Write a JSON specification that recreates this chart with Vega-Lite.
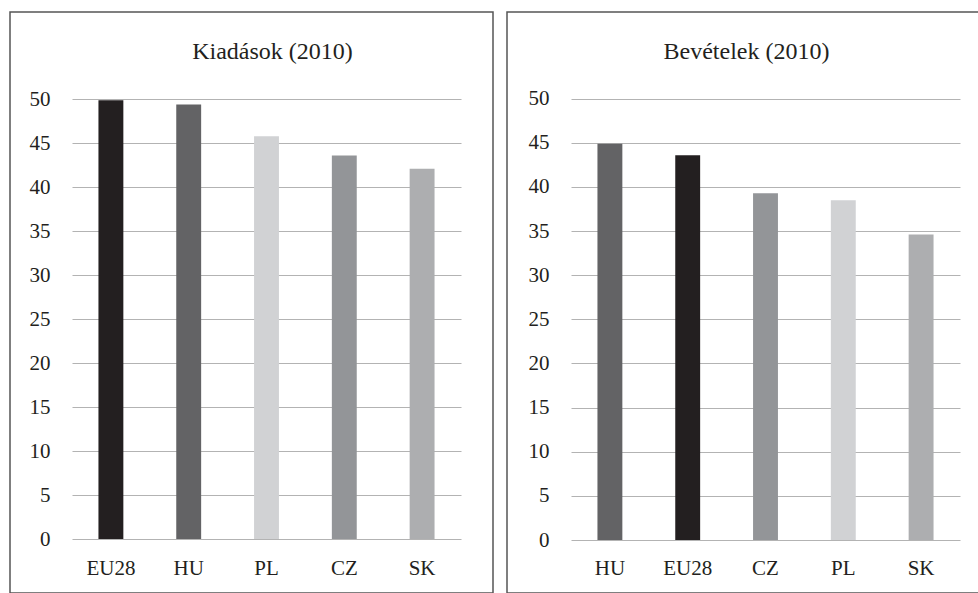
{
  "$schema": "https://vega.github.io/schema/vega-lite/v6.json",
  "padding": {"left": 9, "top": 11, "right": 0, "bottom": 0},
  "background": "white",
  "spacing": 12,
  "data": {
    "values": [
      {"panel": "Kiadások", "country": "EU28", "value": 49.9},
      {"panel": "Kiadások", "country": "HU", "value": 49.4},
      {"panel": "Kiadások", "country": "PL", "value": 45.8},
      {"panel": "Kiadások", "country": "CZ", "value": 43.6},
      {"panel": "Kiadások", "country": "SK", "value": 42.1},
      {"panel": "Bevételek", "country": "HU", "value": 44.9},
      {"panel": "Bevételek", "country": "EU28", "value": 43.6},
      {"panel": "Bevételek", "country": "CZ", "value": 39.3},
      {"panel": "Bevételek", "country": "PL", "value": 38.5},
      {"panel": "Bevételek", "country": "SK", "value": 34.6}
    ]
  },
  "hconcat": [
    {
      "width": 483,
      "height": 581,
      "title": {"text": "Kiadások (2010)", "offset": -70.5, "baseline": "alphabetic", "dx": 21},
      "transform": [{"filter": "datum.panel === 'Kiadások'"}],
      "mark": {"type": "bar"},
      "encoding": {
        "x": {
          "field": "country", "type": "nominal",
          "sort": ["EU28", "HU", "PL", "CZ", "SK"],
          "scale": {"range": [62, 451], "paddingInner": 0.68, "paddingOuter": 0.34},
          "axis": {"title": null, "orient": "bottom", "offset": -19, "labelPadding": 0, "labelBaseline": "alphabetic", "labelAngle": 0, "grid": false, "domain": false, "ticks": false, "tickSize": 0}
        },
        "y": {
          "field": "value", "type": "quantitative",
          "scale": {"domain": [0, 50], "range": [527, 87.3], "nice": false, "zero": true},
          "axis": {"title": null, "values": [0, 5, 10, 15, 20, 25, 30, 35, 40, 45, 50], "offset": -40, "labelPadding": 0, "domain": false, "ticks": false, "tickSize": 0, "grid": true}
        },
        "color": {
          "field": "country", "type": "nominal",
          "scale": {"domain": ["EU28", "HU", "PL", "CZ", "SK"], "range": ["#231f20", "#636365", "#d1d2d4", "#939598", "#adaeb0"]},
          "legend": null
        }
      }
    },
    {
      "width": 472,
      "height": 581,
      "title": {"text": "Bevételek (2010)", "offset": -70.5, "baseline": "alphabetic", "dx": 3.5},
      "transform": [{"filter": "datum.panel === 'Bevételek'"}],
      "mark": {"type": "bar"},
      "encoding": {
        "x": {
          "field": "country", "type": "nominal",
          "sort": ["HU", "EU28", "CZ", "PL", "SK"],
          "scale": {"range": [64, 453], "paddingInner": 0.68, "paddingOuter": 0.34},
          "axis": {"title": null, "orient": "bottom", "offset": -19, "labelPadding": 0, "labelBaseline": "alphabetic", "labelAngle": 0, "grid": false, "domain": false, "ticks": false, "tickSize": 0}
        },
        "y": {
          "field": "value", "type": "quantitative",
          "scale": {"domain": [0, 50], "range": [528, 86.7], "nice": false, "zero": true},
          "axis": {"title": null, "values": [0, 5, 10, 15, 20, 25, 30, 35, 40, 45, 50], "offset": -42, "labelPadding": 0, "domain": false, "ticks": false, "tickSize": 0, "grid": true}
        },
        "color": {
          "field": "country", "type": "nominal",
          "scale": {"domain": ["EU28", "HU", "PL", "CZ", "SK"], "range": ["#231f20", "#636365", "#d1d2d4", "#939598", "#adaeb0"]},
          "legend": null
        }
      }
    }
  ],
  "resolve": {"scale": {"x": "independent", "y": "independent"}},
  "config": {
    "font": "Liberation Serif",
    "view": {"stroke": "#555555", "strokeWidth": 1.5},
    "title": {"font": "Liberation Serif", "fontSize": 24, "fontWeight": "normal", "color": "#231f20"},
    "axis": {"labelFont": "Liberation Serif", "labelFontSize": 21, "labelColor": "#231f20", "gridColor": "#b3b3b3", "gridWidth": 1, "gridOpacity": 1}
  }
}
